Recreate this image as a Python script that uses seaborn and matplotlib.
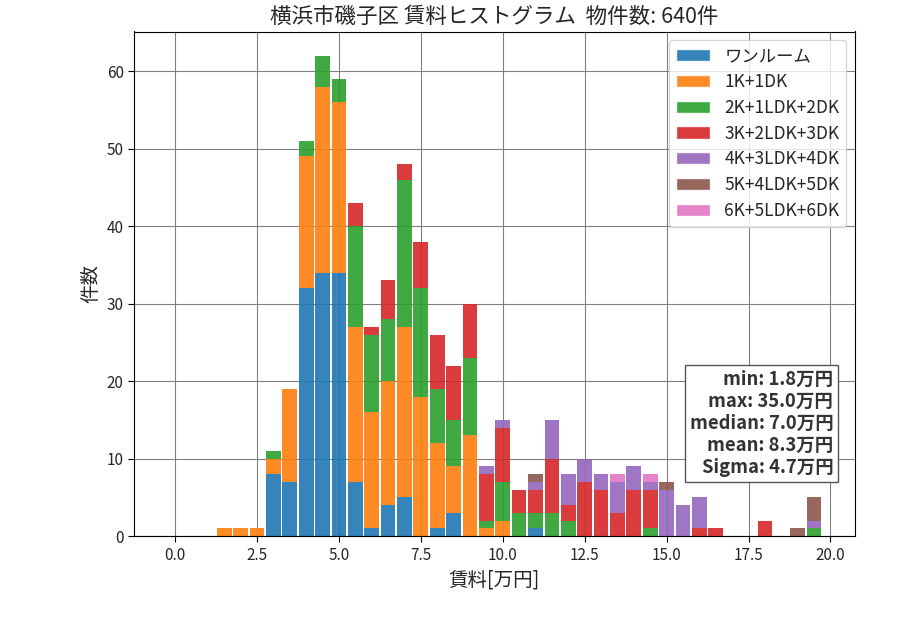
import matplotlib
matplotlib.use('Agg')
import matplotlib.pyplot as plt
from matplotlib.patches import Patch
import seaborn as sns
import pandas as pd
import numpy as np

sns.set_style('ticks', {'axes.grid': True, 'grid.color': 'gray'})
plt.rcParams['font.family'] = ['Noto Sans CJK JP', 'DejaVu Sans']

# bin centers (0.5万円 steps) and counts per layout type
bin_centers = np.arange(0, 20.0, 0.5)
layouts = ['ワンルーム', '1K+1DK', '2K+1LDK+2DK', '3K+2LDK+3DK',
           '4K+3LDK+4DK', '5K+4LDK+5DK', '6K+5LDK+6DK']

one_room = {3.0: 8, 3.5: 7, 4.0: 32, 4.5: 34, 5.0: 34, 5.5: 7, 6.0: 1, 6.5: 4,
            7.0: 5, 8.0: 1, 8.5: 3, 11.0: 1}
k1 = {1.5: 1, 2.0: 1, 2.5: 1, 3.0: 2, 3.5: 12, 4.0: 17, 4.5: 24, 5.0: 22,
      5.5: 20, 6.0: 15, 6.5: 16, 7.0: 22, 7.5: 18, 8.0: 11, 8.5: 6, 9.0: 13,
      9.5: 1, 10.0: 2}
k2 = {3.0: 1, 4.0: 2, 4.5: 4, 5.0: 3, 5.5: 13, 6.0: 10, 6.5: 8, 7.0: 19,
      7.5: 14, 8.0: 7, 8.5: 6, 9.0: 10, 9.5: 1, 10.0: 5, 10.5: 3, 11.0: 2,
      11.5: 3, 12.0: 2, 14.5: 1, 19.5: 1}
k3 = {5.5: 3, 6.0: 1, 6.5: 5, 7.0: 2, 7.5: 6, 8.0: 7, 8.5: 7, 9.0: 7, 9.5: 6,
      10.0: 7, 10.5: 3, 11.0: 3, 11.5: 7, 12.0: 2, 12.5: 7, 13.0: 6, 13.5: 3,
      14.0: 6, 14.5: 5, 16.0: 1, 16.5: 1, 18.0: 2}
k4 = {9.5: 1, 10.0: 1, 11.0: 1, 11.5: 5, 12.0: 4, 12.5: 3, 13.0: 2, 13.5: 4,
      14.0: 3, 14.5: 1, 15.0: 6, 15.5: 4, 16.0: 4, 19.5: 1}
k5 = {11.0: 1, 15.0: 1, 19.0: 1, 19.5: 3}
k6 = {13.5: 1, 14.5: 1}

stats = {'min': 1.8, 'max': 35.0, 'median': 7.0, 'mean': 8.3, 'Sigma': 4.7}
total = 640

rows = []
for name, counts in zip(layouts, [one_room, k1, k2, k3, k4, k5, k6]):
    for c, n in counts.items():
        rows.append({'rent': c, 'layout': name, 'count': n})
df = pd.DataFrame(rows)

colors = sns.color_palette('tab10', len(layouts))
palette = dict(zip(layouts, colors))

fig, ax = plt.subplots(figsize=(9, 6.3), dpi=100)
fig.subplots_adjust(left=0.149, right=0.95, top=0.95, bottom=0.149)

edges = list(np.append(bin_centers - 0.25, bin_centers[-1] + 0.25))
# seaborn stacks the last hue level at the bottom, so reverse the order
sns.histplot(data=df, x='rent', weights='count', hue='layout',
             hue_order=layouts[::-1], palette=palette, bins=edges,
             multiple='stack', shrink=0.9, alpha=0.9, linewidth=0,
             legend=False, ax=ax)

for s in ax.spines.values():
    s.set_color('black')
ax.tick_params(axis='both', labelsize=11, direction='out', length=4,
               color='black')
ax.set_xticks(np.arange(0, 20.1, 2.5))
ax.set_xlim(-1.25, 20.75)
ax.set_ylim(0, 65.1)

handles = [Patch(facecolor=palette[n], alpha=0.9, label=n) for n in layouts]
ax.legend(handles=handles, loc='upper right', fontsize=12.5, labelspacing=0.45)

ax.set_title('横浜市磯子区 賃料ヒストグラム  物件数: {}件'.format(total), fontsize=15.5)
ax.set_xlabel('賃料[万円]', fontsize=14)
ax.set_ylabel('件数', fontsize=14)

txt = '\n'.join('{}: {:.1f}万円'.format(k, v) for k, v in stats.items())
ax.text(0.97, 0.117, txt, transform=ax.transAxes, ha='right', va='bottom',
        fontsize=13.3, fontweight='bold', color='#333333', linespacing=1.2,
        bbox=dict(facecolor='white', edgecolor='#555555', boxstyle='square,pad=0.25'))

fig.savefig('out.png', dpi=100)
